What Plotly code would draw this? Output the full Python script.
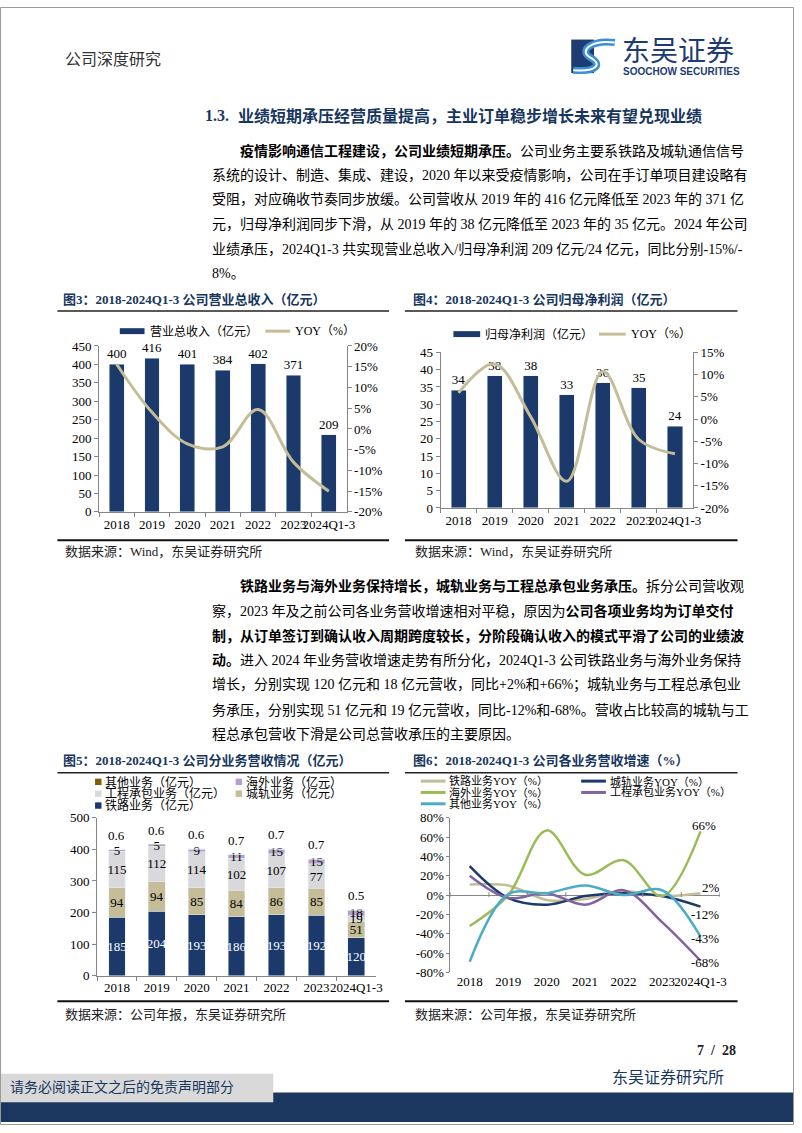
import plotly.graph_objects as go

W, H = 802, 1133
def px(x): return x / W
def py(y): return 1 - y / H

# ---------------- data ----------------
years = ["2018", "2019", "2020", "2021", "2022", "2023", "2024Q1-3"]
revenue = [400, 416, 401, 384, 402, 371, 209]
revenue_yoy = [15.6, 4.0, -3.6, -4.3, 4.7, -8.0, -15.0]
profit = [34.0, 38.2, 38.2, 32.7, 36.2, 34.7, 23.6]
profit_yoy = [5.9, 12.4, 0.5, -14.0, 10.7, -4.6, -7.8]

rail = [185, 204, 193, 186, 193, 192, 120]
urban = [94, 94, 85, 84, 86, 85, 51]
epc = [115, 112, 114, 102, 107, 77, 19]
overseas = [5, 5, 9, 11, 15, 15, 18]
other = [0.6, 0.6, 0.6, 0.7, 0.7, 0.7, 0.5]

rail_yoy = [11, 10, -5, -4, 4, -1, 2]
urban_yoy = [30, -3, -10, -1, 2, -1, -12]
overseas_yoy = [-32, 0, 67, 21, 36, -1, 66]
epc_yoy = [20, -3, 2, -10, 5, -28, -68]
other_yoy = [-69, 1, 2, 10, 0, 5, -43]

# ---------------- styles ----------------
FONT = "Liberation Serif, Noto Sans CJK SC"
NAVY = "#1B3A6B"
KHAKI = "#C4BD97"
LGRAY = "#D9D9DC"
LAV = "#B3A2C7"
GOLD = "#7F6000"
GREEN = "#9BBB59"
PURPLE = "#8064A2"
CYAN = "#4BACC6"
TITLE = "#17365D"
AX = "#868686"

fig = go.Figure()

# Chart 3
fig.add_trace(go.Bar(x=years, y=revenue, xaxis="x", yaxis="y", marker_color=NAVY,
                     texttemplate="%{y:.0f}", textposition="outside", cliponaxis=False,
                     textfont=dict(size=13, color="black", family=FONT)))
fig.add_trace(go.Scatter(x=years, y=revenue_yoy, xaxis="x", yaxis="y2", mode="lines",
                         line=dict(color=KHAKI, width=3, shape="spline", smoothing=1)))
# Chart 4
fig.add_trace(go.Bar(x=years, y=profit, xaxis="x2", yaxis="y3", marker_color=NAVY,
                     texttemplate="%{y:.0f}", textposition="outside", cliponaxis=False,
                     textfont=dict(size=13, color="black", family=FONT)))
fig.add_trace(go.Scatter(x=years, y=profit_yoy, xaxis="x2", yaxis="y4", mode="lines",
                         line=dict(color=KHAKI, width=3, shape="spline", smoothing=1)))
# Chart 5 stacked
for vals, col, tcol in [(rail, NAVY, "white"), (urban, KHAKI, "black"),
                        (epc, LGRAY, "black"), (overseas, LAV, "black")]:
    fig.add_trace(go.Bar(x=years, y=vals, xaxis="x3", yaxis="y5", marker_color=col,
                         texttemplate="%{y}", textposition="inside",
                         insidetextanchor="middle", textangle=0, constraintext="none",
                         cliponaxis=False,
                         textfont=dict(size=13, color=tcol, family=FONT)))
fig.add_trace(go.Bar(x=years, y=other, xaxis="x3", yaxis="y5", marker_color=GOLD))
# Chart 6 lines
for vals, col in [(rail_yoy, KHAKI), (urban_yoy, NAVY), (overseas_yoy, GREEN),
                  (epc_yoy, PURPLE), (other_yoy, CYAN)]:
    fig.add_trace(go.Scatter(x=years, y=vals, xaxis="x4", yaxis="y6", mode="lines",
                             line=dict(color=col, width=2.5, shape="spline", smoothing=1)))

def pct_ticks(lo, hi, step):
    vals = list(range(lo, hi + 1, step))
    return dict(tickvals=vals, ticktext=[f"{v}%" for v in vals])

base_ax = dict(showgrid=False, zeroline=False, showline=True, linecolor=AX, linewidth=1,
               ticks="outside", ticklen=4, tickcolor=AX,
               tickfont=dict(size=13, family=FONT, color="black"))
xcat = dict(base_ax, type="category", tickson="boundaries", tickangle=0)

fig.update_layout(
    width=W, height=H, margin=dict(l=0, r=0, t=0, b=0),
    paper_bgcolor="white", plot_bgcolor="rgba(0,0,0,0)", showlegend=False,
    barmode="stack", bargap=0.58, font=dict(family=FONT, color="black"),
    uniformtext=dict(minsize=13, mode="show"),
    xaxis=dict(xcat, domain=[px(100), px(350)], anchor="y"),
    yaxis=dict(base_ax, domain=[py(511.7), py(343.5)], range=[0, 450], dtick=50, anchor="x"),
    yaxis2=dict(base_ax, overlaying="y", side="right", anchor="x", range=[-20, 20],
                **pct_ticks(-20, 20, 5)),
    xaxis2=dict(xcat, domain=[px(445), px(700)], anchor="y3"),
    yaxis3=dict(base_ax, domain=[py(507.7), py(350)], range=[0, 45], dtick=5, anchor="x2"),
    yaxis4=dict(base_ax, overlaying="y3", side="right", anchor="x2", range=[-20, 15],
                **pct_ticks(-20, 15, 5)),
    xaxis3=dict(xcat, domain=[px(98), px(380)], anchor="y5", range=[-0.5, 6.5]),
    yaxis5=dict(base_ax, domain=[py(981.7), py(821.7)], range=[0, 500], dtick=100, anchor="x3"),
    xaxis4=dict(xcat, domain=[px(455), px(727)], anchor="y6", showline=False, ticks="",
                range=[-0.5, 6.5]),
    yaxis6=dict(base_ax, domain=[py(978.3), py(821.7)], range=[-80, 80], anchor="x4",
                zeroline=True, zerolinecolor=AX, zerolinewidth=1, ticklen=3,
                **pct_ticks(-80, 80, 20)),
)

ann = []
shapes = []

def txt(x, y, s, size=14, color="black", anchor="left", family=FONT):
    ann.append(dict(x=px(x), y=py(y), xref="paper", yref="paper", text=s, showarrow=False,
                    xanchor=anchor, yanchor="middle",
                    font=dict(size=size, color=color, family=family)))

def rect(x0, y0, x1, y1, fill, line=None):
    shapes.append(dict(type="rect", xref="paper", yref="paper", x0=px(x0), x1=px(x1),
                       y0=py(y1), y1=py(y0), fillcolor=fill,
                       line=dict(width=0) if line is None else line, layer="above"))

def hline(x0, x1, y, color, width):
    shapes.append(dict(type="line", xref="paper", yref="paper", x0=px(x0), x1=px(x1),
                       y0=py(y), y1=py(y), line=dict(color=color, width=width)))

# ---------------- header ----------------
txt(64, 53, "公司深度研究", 16, "#333333")
rect(577, 33, 600, 67, "#1E3C72")
logo_path = (f"M {px(621)},{py(36)} C {px(598)},{py(33)} {px(584)},{py(44)} {px(596)},{py(51)} "
             f"C {px(609)},{py(58)} {px(603)},{py(66)} {px(579)},{py(64)}")
shapes.append(dict(type="path", xref="paper", yref="paper", path=logo_path,
                   line=dict(color="#3C8FD2", width=7)))
shapes.append(dict(type="path", xref="paper", yref="paper", path=logo_path,
                   line=dict(color="white", width=2)))
txt(626, 43, "东吴证券", 28, "#1E3C72", family="Noto Sans CJK SC")
txt(627, 65, "<b>SOOCHOW SECURITIES</b>", 10, "#1E3C72", family="Liberation Sans")

# heading
txt(205, 110, "<b>1.3.</b>", 16, TITLE)
txt(238, 110, "<b>业绩短期承压经营质量提高，主业订单稳步增长未来有望兑现业绩</b>", 16, TITLE)

para1 = [
    "<b>疫情影响通信工程建设，公司业绩短期承压。</b>公司业务主要系铁路及城轨通信信号",
    "系统的设计、制造、集成、建设，2020 年以来受疫情影响，公司在手订单项目建设略有",
    "受阻，对应确收节奏同步放缓。公司营收从 2019 年的 416 亿元降低至 2023 年的 371 亿",
    "元，归母净利润同步下滑，从 2019 年的 38 亿元降低至 2023 年的 35 亿元。2024 年公司",
    "业绩承压，2024Q1-3 共实现营业总收入/归母净利润 209 亿元/24 亿元，同比分别-15%/-",
    "8%。",
]
for i, (line, y) in enumerate(zip(para1, [146, 170, 195, 220, 245, 270])):
    txt(240 if i == 0 else 212, y, line, 14)

para2 = [
    "<b>铁路业务与海外业务保持增长，城轨业务与工程总承包业务承压。</b>拆分公司营收观",
    "察，2023 年及之前公司各业务营收增速相对平稳，原因为<b>公司各项业务均为订单交付</b>",
    "<b>制，从订单签订到确认收入周期跨度较长，分阶段确认收入的模式平滑了公司的业绩波</b>",
    "<b>动。</b>进入 2024 年业务营收增速走势有所分化，2024Q1-3 公司铁路业务与海外业务保持",
    "增长，分别实现 120 亿元和 18 亿元营收，同比+2%和+66%；城轨业务与工程总承包业",
    "务承压，分别实现 51 亿元和 19 亿元营收，同比-12%和-68%。营收占比较高的城轨与工",
    "程总承包营收下滑是公司总营收承压的主要原因。",
]
for i, (line, y) in enumerate(zip(para2, [587, 612, 637, 662, 687, 712, 737])):
    txt(240 if i == 0 else 212, y, line, 14)

# ---------------- figure titles / rules / sources ----------------
txt(62, 296, "<b>图3：2018-2024Q1-3 公司营业总收入（亿元）</b>", 13, TITLE)
txt(415, 296, "<b>图4：2018-2024Q1-3 公司归母净利润（亿元）</b>", 13, TITLE)
hline(58, 393, 308, "#222222", 1.5)
hline(409, 745, 308, "#222222", 1.5)
hline(58, 393, 540.5, "#111111", 2)
hline(409, 745, 540.5, "#111111", 2)
txt(64, 552, "数据来源：Wind，东吴证券研究所", 13, "#222222")
txt(417, 552, "数据来源：Wind，东吴证券研究所", 13, "#222222")

txt(62, 764, "<b>图5：2018-2024Q1-3 公司分业务营收情况（亿元）</b>", 13, TITLE)
txt(415, 764, "<b>图6：2018-2024Q1-3 公司各业务营收增速（%）</b>", 13, TITLE)
hline(58, 393, 776, "#222222", 1.5)
hline(409, 745, 776, "#222222", 1.5)
hline(58, 393, 1007.5, "#111111", 2)
hline(409, 745, 1007.5, "#111111", 2)
txt(64, 1021, "数据来源：公司年报，东吴证券研究所", 13, "#222222")
txt(417, 1021, "数据来源：公司年报，东吴证券研究所", 13, "#222222")

# ---------------- legends ----------------
rect(121, 325.5, 146, 331.5, NAVY)
txt(149, 328.5, "营业总收入（亿元）", 12)
hline(268, 293, 328.5, KHAKI, 3)
txt(296, 328.5, "YOY（%）", 12)

rect(458, 328.5, 485, 334.5, NAVY)
txt(488, 331.5, "归母净利润（亿元）", 12)
hline(605, 632, 331.5, KHAKI, 3)
txt(635, 331.5, "YOY（%）", 12)

for (x, y, col, label) in [(96, 785.5, GOLD, "其他业务（亿元）"), (238, 785.5, LAV, "海外业务（亿元）"),
                           (96, 797.5, LGRAY, "工程承包业务（亿元）"), (238, 797.5, KHAKI, "城轨业务（亿元）"),
                           (96, 809.5, NAVY, "铁路业务（亿元）")]:
    rect(x, y - 3.5, x + 6.5, y + 3, col)
    txt(x + 8, y, label, 12)

for (x, y, col, label) in [(425, 784.5, KHAKI, "铁路业务YOY（%）"), (587, 784.5, NAVY, "城轨业务YOY（%）"),
                           (425, 796, GREEN, "海外业务YOY（%）"), (587, 796, PURPLE, "工程承包业务YOY（%）"),
                           (425, 807.5, CYAN, "其他业务YOY（%）")]:
    hline(x, x + 25, y, col, 3)
    txt(x + 27, y, label, 11)

# ---------------- chart 5 totals ("其他" labels above bars) ----------------
# category axes take serial numbers for annotation positions
for i in range(len(years)):
    total = rail[i] + urban[i] + epc[i] + overseas[i] + other[i]
    ann.append(dict(x=i, y=total, xref="x3", yref="y5", text=f"{other[i]}", showarrow=False,
                    yshift=14, font=dict(size=13, family=FONT, color="black")))

# ---------------- chart 6 end labels ----------------
last = len(years) - 1
for vals, xs, ys in [(overseas_yoy, 3, 6), (rail_yoy, 10, 6), (urban_yoy, 4, -8),
                     (other_yoy, 4, -2), (epc_yoy, 4, -2)]:
    ann.append(dict(x=last, y=vals[-1], xref="x4", yref="y6", text=f"{vals[-1]}%",
                    showarrow=False, xshift=xs, yshift=ys,
                    font=dict(size=13, family=FONT, color="black")))
# small ticks on the zero line at category boundaries
for b in range(len(years) + 1):
    shapes.append(dict(type="line", xref="x4", yref="y6", x0=b - 0.5, x1=b - 0.5,
                       ysizemode="pixel", yanchor=0, y0=-2, y1=3, line=dict(color=AX, width=1)))

# ---------------- footer ----------------
txt(745, 1058, "<b>7  /  28</b>", 14, "#222222", anchor="right")
txt(733, 1085, "东吴证券研究所", 16, TITLE, anchor="right")
rect(0, 1100, 802, 1130, "#1B375F")
rect(0, 1081, 276, 1110, "#D9D9D9")
txt(8, 1094, "请务必阅读正文之后的免责声明部分", 14, TITLE)

# page border
shapes.append(dict(type="rect", xref="paper", yref="paper", x0=px(0.5), x1=px(801.5),
                   y0=py(1132.5), y1=py(0.5), line=dict(color="#9A9A9A", width=1),
                   fillcolor="rgba(0,0,0,0)"))

fig.update_layout(annotations=ann, shapes=shapes)

fig.write_html("out.html", config={"displayModeBar": False},
               post_script="document.body.style.margin='0';")
